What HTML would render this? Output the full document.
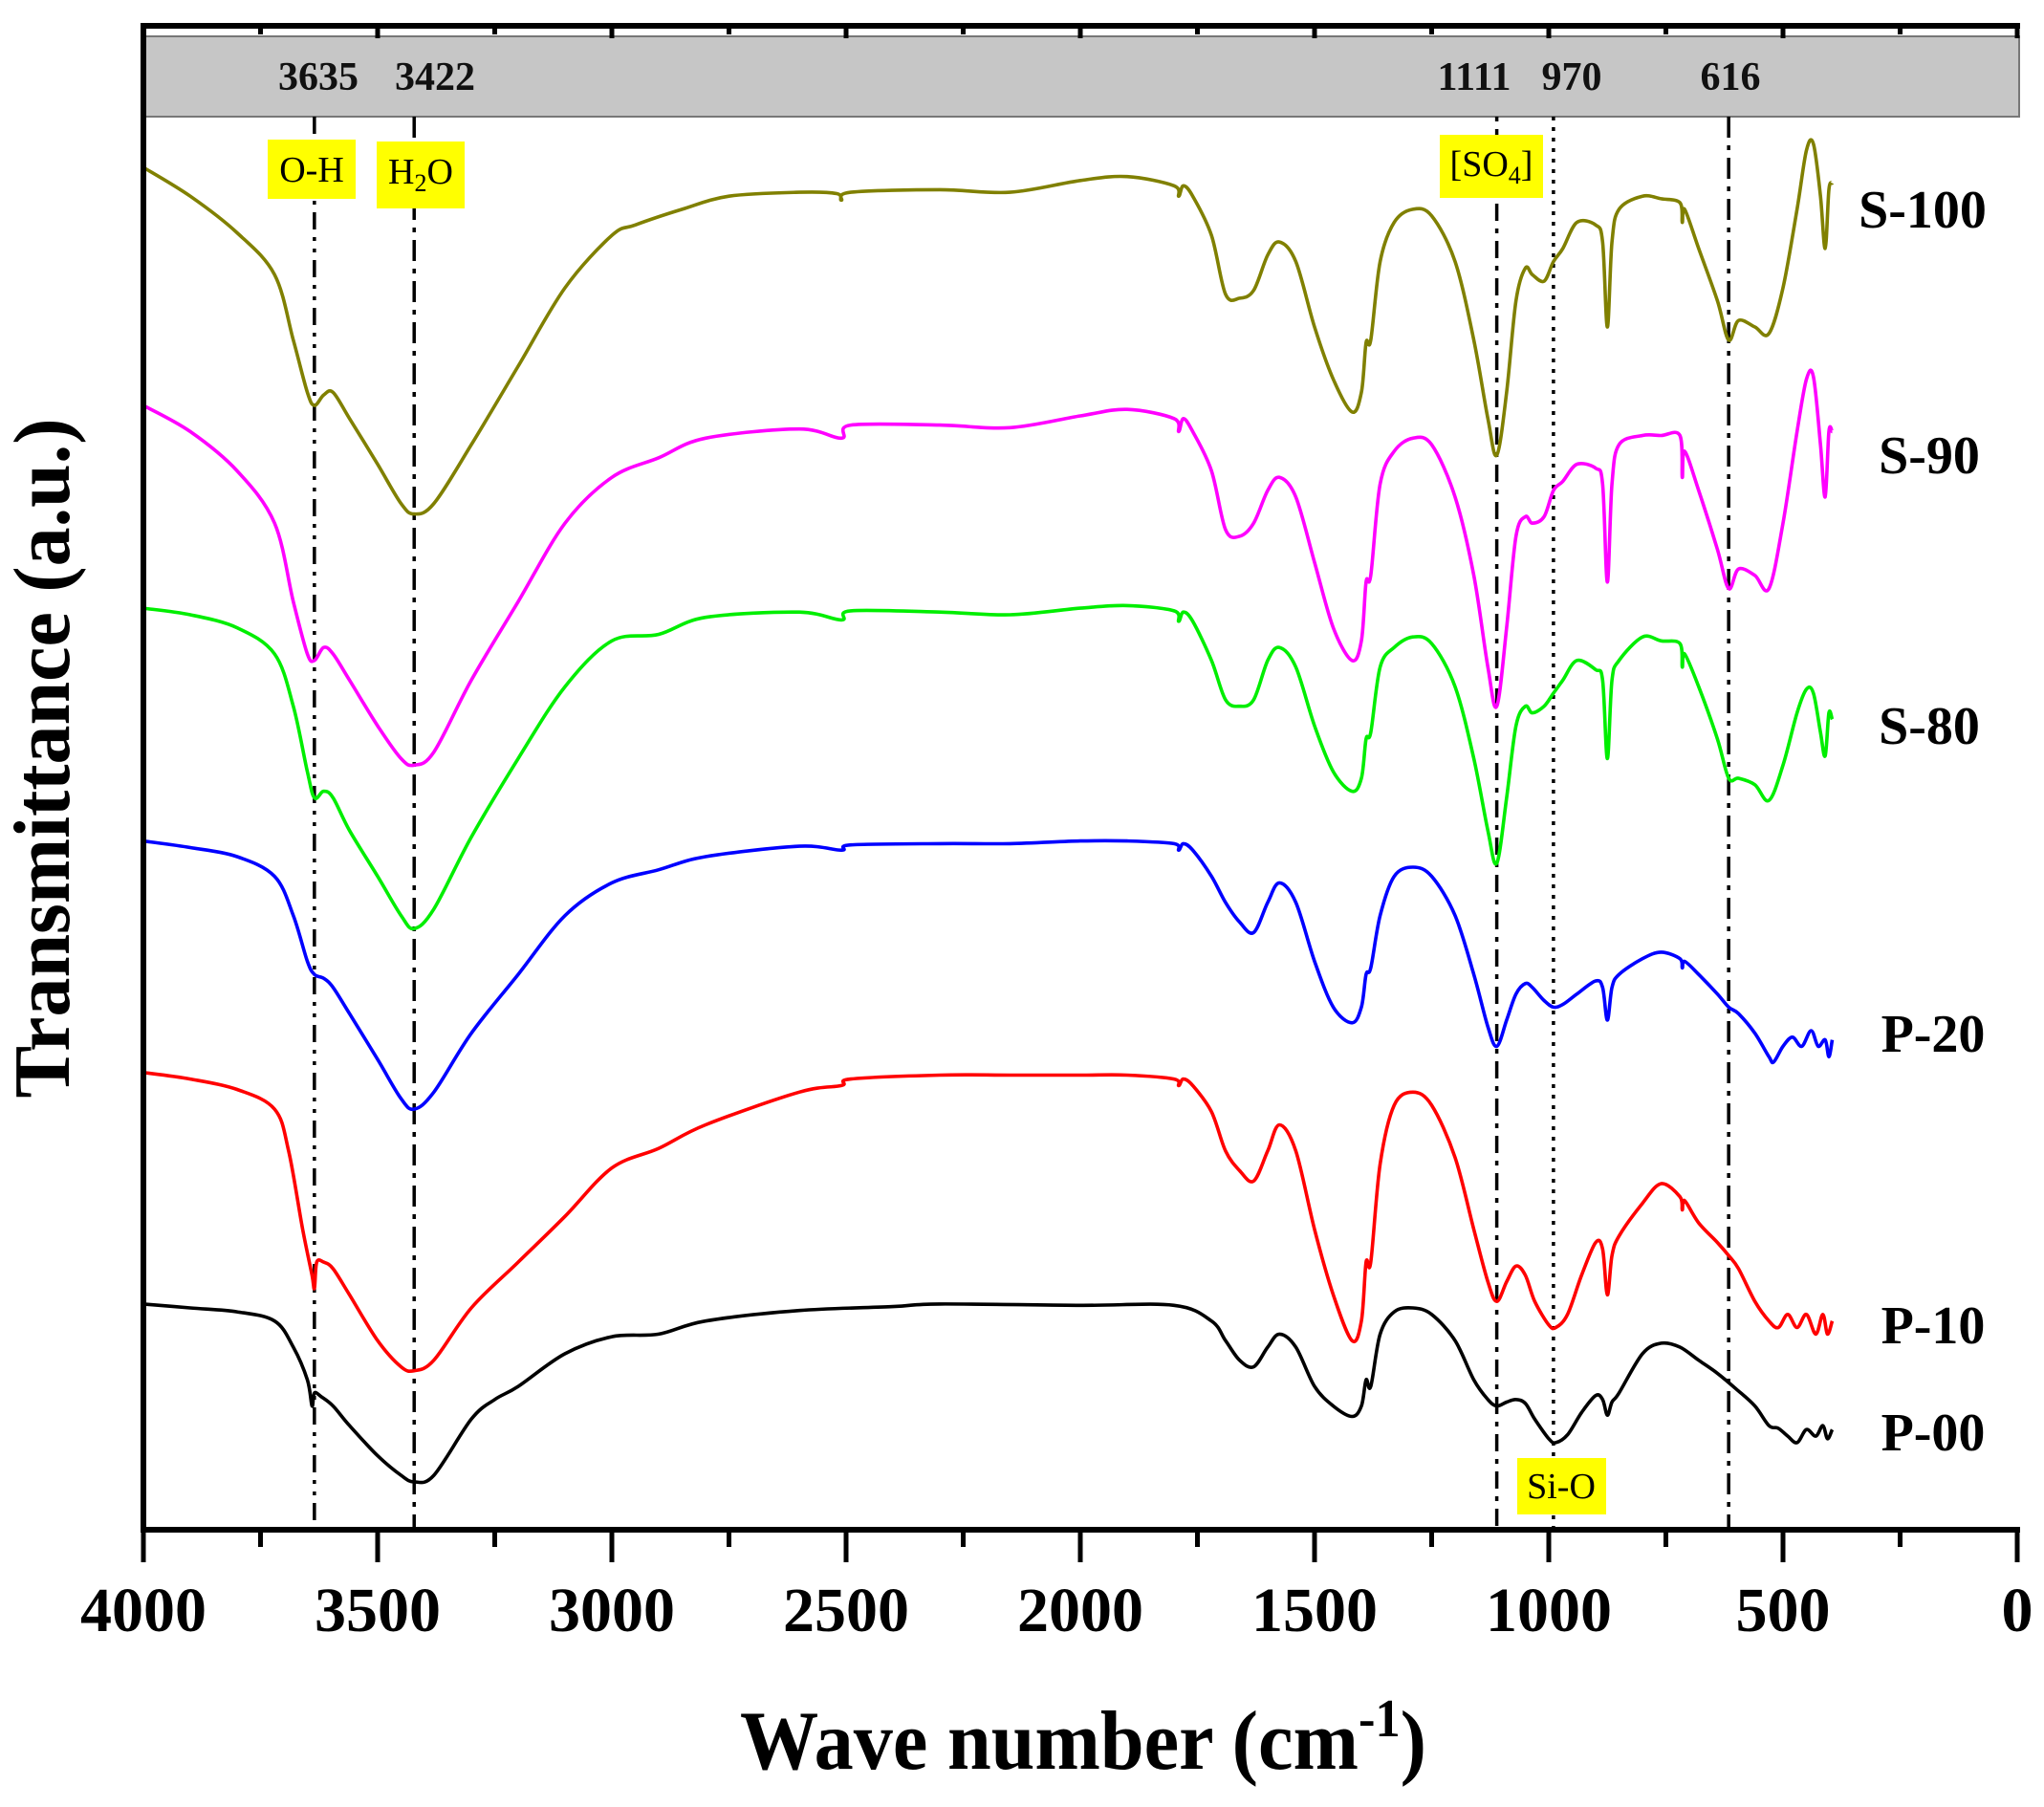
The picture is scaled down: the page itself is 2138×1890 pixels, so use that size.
<!DOCTYPE html>
<html><head><meta charset="utf-8">
<style>html,body{margin:0;padding:0;background:#fff}svg{display:block}svg text{font-family:"Liberation Serif",serif}</style>
</head><body>
<svg id="s" xmlns="http://www.w3.org/2000/svg" width="2138" height="1890" viewBox="0 0 2138 1890" style="font-family:'Liberation Serif',serif">
<rect width="2138" height="1890" fill="#fff"/>
<rect x="152" y="38" width="1960" height="84" fill="#c6c6c6" stroke="#777" stroke-width="2"/>
<g id="dash" stroke="#000" stroke-width="3.5"></g>
<g id="curves" fill="none" stroke-width="3.6" stroke-linejoin="round"></g>
<g font-weight="bold" font-size="42" text-anchor="middle" fill="#111">
<text x="333" y="94">3635</text><text x="455" y="94">3422</text>
<text x="1542" y="94">1111</text><text x="1644" y="94">970</text><text x="1810" y="94">616</text>
</g>
<g font-size="38">
<rect x="280" y="146" width="92" height="62" fill="#ffff00"/><text x="326" y="190" text-anchor="middle">O-H</text>
<rect x="394" y="148" width="92" height="70" fill="#ffff00"/><text x="440" y="192" text-anchor="middle">H<tspan font-size="26" dy="8">2</tspan><tspan dy="-8">O</tspan></text>
<rect x="1506" y="141" width="108" height="66" fill="#ffff00"/><text x="1560" y="184" text-anchor="middle">[SO<tspan font-size="26" dy="8">4</tspan><tspan dy="-8">]</tspan></text>
<rect x="1587" y="1525" width="93" height="59" fill="#ffff00"/><text x="1633" y="1567" text-anchor="middle">Si-O</text>
</g>
<g font-weight="bold" font-size="56" text-anchor="middle" fill="#000">
<text x="2011" y="238">S-100</text><text x="2018" y="495">S-90</text><text x="2018" y="778">S-80</text>
<text x="2022" y="1100">P-20</text><text x="2022" y="1405">P-10</text><text x="2022" y="1517">P-00</text>
</g>
<g id="axes" stroke="#000" stroke-width="6" fill="none">
<line x1="150" y1="24" x2="150" y2="1603"/>
<line x1="147" y1="1600" x2="2113" y2="1600"/>
<line x1="147" y1="27" x2="2113" y2="27"/>
</g>
<g id="ticks" stroke="#000" stroke-width="5"></g>
<g font-weight="bold" font-size="66" text-anchor="middle" fill="#000" id="tl"></g>
<text x="1133" y="1850" font-weight="bold" font-size="88" text-anchor="middle" textLength="718" lengthAdjust="spacingAndGlyphs">Wave number (cm<tspan font-size="56" dy="-34">-1</tspan><tspan dy="34">)</tspan></text>
<text transform="translate(72,793) rotate(-90)" font-weight="bold" font-size="84" text-anchor="middle" textLength="711" lengthAdjust="spacingAndGlyphs">Transmittance (a.u.)</text>
</svg>
<script>
var NS="http://www.w3.org/2000/svg";
function X(w){return 150+(4000-w)*0.49;}
function el(p,t,a){var e=document.createElementNS(NS,t);for(var k in a)e.setAttribute(k,a[k]);p.appendChild(e);return e;}
var tk=document.getElementById('ticks'),tl=document.getElementById('tl');
for(var w=0;w<=4000;w+=250){var x=X(w);var maj=w%500==0;
el(tk,'line',{x1:x,y1:1600,x2:x,y2:maj?1634:1618});
el(tk,'line',{x1:x,y1:27,x2:x,y2:maj?40:36});
if(maj){var t=el(tl,'text',{x:x,y:1706});t.textContent=w;}}
var dg=document.getElementById('dash');
var dd=[[3635,"18 8 4 8 4 8"],[3422,"22 8 5 8"],[1111,"5 8 18 8"],[990,"4 7"],[616,"22 8 5 8"]];
dd.forEach(function(q){el(dg,'line',{x1:X(q[0]),y1:122,x2:X(q[0]),y2:1600,'stroke-dasharray':q[1]});});
var D={
"#808000":"4000:128,3900:150,3800:178,3720:210,3680:260,3650:300,3635:310,3615:302,3595:300,3560:320,3500:355,3450:385,3422:393,3380:385,3300:340,3200:280,3100:220,3000:180,2950:172,2850:160,2750:150,2600:147,2520:148,2510:153,2490:147,2300:145,2150:147,2000:138,1900:135,1800:142,1790:150,1780:142,1760:150,1720:180,1690:225,1660:228,1630:222,1600:195,1575:185,1540:200,1500:250,1460:290,1420:315,1400:300,1390:262,1380:260,1360:200,1330:170,1290:160,1250:165,1200:200,1160:260,1130:320,1111:348,1090:300,1070:230,1050:205,1035:210,1010:215,990:200,970:190,940:170,900:172,885:185,875:250,865:185,850:160,800:150,760:152,720:155,715:170,710:160,680:190,640:230,616:260,595:245,560:250,530:255,500:220,470:160,450:115,435:110,420:150,410:190,402:145,395:140",
"#ff00ff":"4000:310,3900:330,3800:360,3720:400,3680:460,3650:500,3635:505,3615:495,3595:500,3560:520,3500:555,3450:580,3422:585,3380:575,3300:520,3200:460,3100:400,3000:365,2900:350,2800:335,2600:328,2510:335,2490:325,2300:325,2150:327,2000:318,1900:313,1800:320,1790:330,1780:320,1760:330,1720:360,1690:405,1660:410,1630:400,1600:375,1575:365,1540:380,1500:430,1460:480,1420:505,1400:490,1390:445,1380:440,1360:370,1330:345,1290:335,1250:340,1200:380,1160:440,1130:510,1111:540,1090:480,1070:410,1050:395,1035:400,1010:395,990:375,970:368,940:355,900:358,885:370,875:445,865:370,850:340,800:333,760:333,720:333,715:365,710:345,680:375,640:420,616:450,595:435,560:440,530:450,500:400,470:330,450:290,435:288,420:340,410:380,402:330,395:330",
"#00ee00":"4000:465,3900:470,3800:480,3720:500,3680:540,3650:590,3635:610,3615:605,3595:610,3560:635,3500:670,3450:700,3422:710,3380:695,3300:640,3200:580,3100:525,3000:490,2900:485,2800:472,2600:468,2510:474,2490:467,2300:468,2150:470,2000:465,1900:463,1800:467,1790:475,1780:468,1760:475,1720:505,1690:535,1660:540,1630:535,1600:505,1575:495,1540:510,1500:555,1460:590,1420:605,1400:595,1390:565,1380:560,1360:510,1330:495,1290:487,1250:492,1200:525,1160:580,1130:635,1111:660,1090:610,1070:555,1050:540,1035:545,1010:540,990:530,970:520,940:505,900:512,885:520,875:580,865:520,850:505,800:487,760:490,720:492,715:510,710:500,680:525,640:565,616:595,595:595,560:600,530:612,500:585,470:545,450:527,435:530,420:560,410:578,402:545,395:550",
"#0000ff":"4000:643,3900:648,3800:655,3720:670,3680:700,3650:735,3635:745,3615:748,3595:755,3560:775,3500:810,3450:840,3422:848,3380:835,3300:790,3200:745,3100:700,3000:675,2900:665,2800:655,2600:647,2510:650,2490:646,2300:645,2150:645,2000:643,1900:643,1800:645,1790:650,1780:645,1760:650,1720:670,1690:690,1660:705,1630:713,1600:690,1575:675,1540:690,1500:735,1460:770,1420:782,1400:770,1390:745,1380:740,1360:700,1330:670,1290:663,1250:670,1200:700,1160:745,1130:785,1111:800,1090:780,1070:760,1050:752,1035:755,1010:765,990:770,970:768,940:760,900:750,885:755,875:780,865:755,850:745,800:733,760:728,720:733,715:740,710:735,680:745,640:760,616:770,595:775,560:790,530:808,520:812,500:800,480:793,460:800,440:788,425:800,410:795,402:808,395:795",
"#ff0000":"4000:820,3900:825,3800:833,3720:848,3690:880,3660:940,3640:975,3635:985,3630:965,3615:965,3595:970,3560:990,3500:1025,3450:1045,3422:1048,3380:1040,3300:1000,3200:965,3100:930,3000:893,2900:878,2800:860,2600:835,2510:830,2490:825,2300:822,2150:822,2000:822,1900:822,1800:825,1790:830,1780:825,1760:830,1720:850,1690:880,1660:895,1630:903,1600:880,1575:860,1540:880,1500:940,1460:990,1420:1025,1400:1010,1390:965,1380:965,1360:890,1330:845,1290:835,1250:845,1200:885,1160:940,1130:980,1111:995,1090:980,1070:968,1050:975,1030:995,1000:1013,985:1015,960:1005,930:975,900:950,885:955,875:990,865:960,850:945,800:920,760:905,720:915,715:925,710:918,680:935,640:950,616:960,595:970,560:995,530:1010,510:1015,490:1005,470:1015,450:1005,430:1020,415:1005,405:1020,395:1010",
"#000000":"4000:997,3900:1000,3800:1003,3720:1010,3680:1030,3650:1055,3640:1075,3635:1065,3620:1068,3595:1075,3560:1090,3500:1113,3450:1128,3422:1133,3380:1128,3300:1085,3250:1070,3200:1060,3100:1035,3000:1022,2900:1020,2800:1010,2600:1002,2400:999,2300:997,2000:998,1800:998,1720:1010,1690:1025,1660:1040,1630:1045,1600:1030,1575:1020,1540:1030,1500:1060,1460:1075,1420:1083,1400:1075,1390:1055,1380:1060,1360:1020,1330:1003,1290:1000,1250:1005,1200:1025,1160:1055,1130:1070,1111:1075,1090:1072,1070:1070,1050:1073,1030:1085,1000:1100,985:1103,960:1097,930:1080,900:1067,885:1070,875:1082,865:1072,850:1065,800:1035,760:1027,720:1030,680:1040,640:1050,600:1062,560:1075,530:1090,510:1092,490:1098,470:1103,450:1093,430:1098,415:1090,405:1100,395:1093"};
var cg=document.getElementById('curves');
for(var c in D){var p=D[c].split(',').map(function(s){var a=s.split(':');return [X(+a[0]),(+a[1])*1.368];});
var d="M"+p[0][0].toFixed(1)+","+p[0][1].toFixed(1);
for(var i=0;i<p.length-1;i++){var p0=p[Math.max(0,i-1)],p1=p[i],p2=p[i+1],p3=p[Math.min(p.length-1,i+2)];
var c1x=p1[0]+(p2[0]-p0[0])/6,c1y=p1[1]+(p2[1]-p0[1])/6,c2x=p2[0]-(p3[0]-p1[0])/6,c2y=p2[1]-(p3[1]-p1[1])/6;
d+=" C"+c1x.toFixed(1)+","+c1y.toFixed(1)+" "+c2x.toFixed(1)+","+c2y.toFixed(1)+" "+p2[0].toFixed(1)+","+p2[1].toFixed(1);}
el(cg,'path',{d:d,stroke:c});}
</script>
</body></html>
